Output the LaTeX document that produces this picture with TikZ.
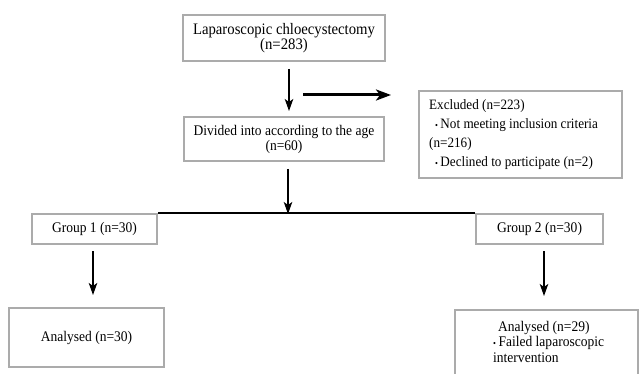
\documentclass[tikz,border=0pt]{standalone}
\usepackage{fontspec}
\setmainfont[FakeStretch=0.92]{Liberation Serif}
\usetikzlibrary{arrows.meta}
\begin{document}
\begin{tikzpicture}[x=1pt,y=-1pt,
  box/.style={draw=black!33, line width=2pt, fill=white, inner sep=0pt, align=center,
    font=\fontsize{14.7}{15}\selectfont},
  txt/.style={inner sep=0pt, align=left, font=\fontsize{14.7}{15}\selectfont},
  arr/.style={line width=1.3pt, -{Stealth[length=12pt,width=8.5pt,inset=3pt]}},
  harr/.style={line width=3pt, -{Stealth[length=15pt,width=11pt,inset=4pt]}}]
\useasboundingbox (0,0) rectangle (639,374);
\clip (0,0) rectangle (639,374);
% boxes
\node[box, minimum width=202pt, minimum height=46pt, font=\fontsize{16}{14}\selectfont] (b1) at (284,38)
  {Laparoscopic chloecystectomy\\(n=283)};
\node[box, minimum width=200pt, minimum height=44pt, font=\fontsize{14.7}{15}\selectfont] (b2) at (284,139)
  {Divided into according to the age\\(n=60)};
\node[box, minimum width=203pt, minimum height=87pt] (ex) at (520.5,134.5) {};
\node[txt, anchor=north west, font=\fontsize{14.3}{19}\selectfont] (ext) at (429,99)
  {Excluded (n=223)\\
   \hspace*{6pt}{\small•}\,Not meeting inclusion criteria\\
   (n=216)\\
   \hspace*{6pt}{\small•}\,Declined to participate (n=2)};
\node[box, minimum width=125pt, minimum height=30pt] (g1) at (94.5,229) {Group 1 (n=30)};
\node[box, minimum width=127pt, minimum height=30pt] (g2) at (539.5,229) {Group 2 (n=30)};
\node[box, minimum width=155pt, minimum height=59pt] (a1) at (86.5,337.5) {Analysed (n=30)};
\node[box, minimum width=183pt, minimum height=100pt, anchor=north] (a2) at (546.5,309) {};
\node[txt, anchor=north west, font=\fontsize{14.7}{15.5}\selectfont] (a2t) at (493,321)
  {\hspace*{5pt}Analysed (n=29)\\
   {\small•}\,Failed laparoscopic\\
   intervention};
% connectors
\draw[arr] ([xshift=5pt,yshift=-7pt]b1.south) -- ([xshift=5pt,yshift=5pt]b2.north);
\coordinate (h1) at (303,95);
\coordinate (h2) at (391,95);
\draw[harr] (h1) -- (h2);
\draw[line width=2.5pt] (g1.north east) -- (g2.north west);
\coordinate (m) at (288,214);
\draw[arr] ([xshift=4pt,yshift=-7pt]b2.south) -- (m);
\draw[arr] ([xshift=-1.5pt,yshift=-6pt]g1.south) -- ([xshift=6.5pt,yshift=12pt]a1.north);
\draw[arr] ([xshift=4.5pt,yshift=-6pt]g2.south) -- ([xshift=-2.5pt,yshift=13pt]a2.north);
\end{tikzpicture}
\end{document}
